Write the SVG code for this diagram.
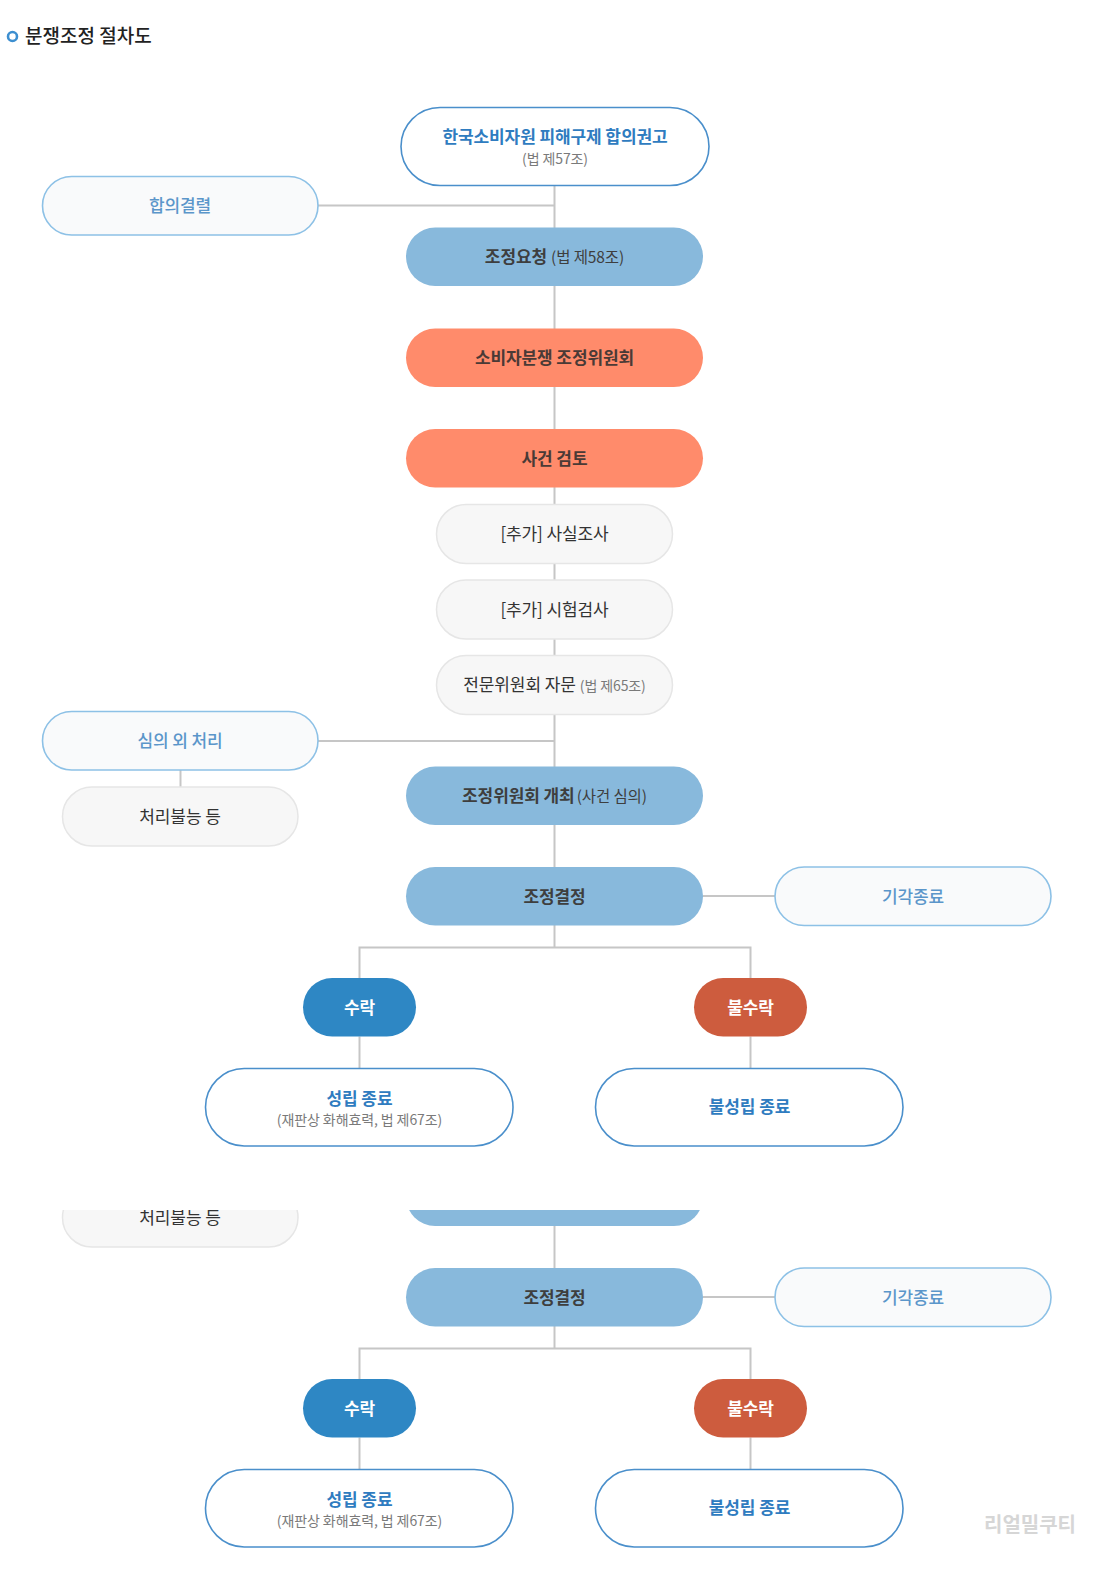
<svg xmlns="http://www.w3.org/2000/svg" width="1115" height="1581" viewBox="0 0 1115 1581">
<style>
text{font-family:"Noto Sans CJK KR","Noto Sans",sans-serif;text-anchor:middle;letter-spacing:-0.1px}
.ln{stroke:#c6c6c6;stroke-width:2;fill:none}
.outB{fill:#ffffff;stroke:#4a8fcb;stroke-width:1.6}
.outL{fill:#f9fafb;stroke:#8dc1e6;stroke-width:1.6}
.gry{fill:#f7f7f7;stroke:#e6e6e6;stroke-width:1.5}
.blu{fill:#88b9dc}
.sal{fill:#ff8b6b}
.acc{fill:#2e87c4}
.rej{fill:#cd5c3e}
.tBlue{fill:#2f7cc0;font-weight:700;font-size:17px}
.tLight{fill:#5b96ca;font-weight:500;font-size:17px}
.tDark{fill:#3e3e3e;font-weight:700;font-size:17px}
.tSal{fill:#4a3a36;font-weight:700;font-size:17px}
.tGray{fill:#333;font-weight:400;font-size:17px}
.tWhite{fill:#fff;font-weight:700;font-size:17px}
.sub{fill:#7a7a7a;font-weight:400;font-size:14px}
.subD{fill:#3e3e3e;font-weight:400;font-size:15.5px}
</style>
<defs>
<clipPath id="dupClip"><rect x="0" y="809" width="1115" height="400"/></clipPath>
</defs>
<rect width="1115" height="1581" fill="#ffffff"/>

<g id="title">
<circle cx="12.5" cy="36.5" r="4.5" fill="none" stroke="#3d8fd0" stroke-width="2.6"/>
<text x="25" y="43" style="text-anchor:start;font-size:19px;font-weight:500;fill:#222;letter-spacing:0">분쟁조정 절차도</text>
</g>

<g id="connectors">
<line class="ln" x1="554.5" y1="185" x2="554.5" y2="867"/>
<line class="ln" x1="318" y1="205.5" x2="554.5" y2="205.5"/>
<line class="ln" x1="318" y1="741" x2="554.5" y2="741"/>
<line class="ln" x1="180.5" y1="770" x2="180.5" y2="787"/>
<line class="ln" x1="703" y1="896" x2="775" y2="896"/>
<polyline class="ln" points="554.5,925 554.5,947.5"/>
<polyline class="ln" points="359.5,978 359.5,947.5 750.5,947.5 750.5,978"/>
<line class="ln" x1="359.5" y1="1036.5" x2="359.5" y2="1068.5"/>
<line class="ln" x1="750.5" y1="1036.5" x2="750.5" y2="1068.5"/>
</g>

<g id="n-recommend">
<rect class="outB" x="401" y="107.5" width="308" height="78" rx="39"/>
<text class="tBlue" x="555" y="142.5">한국소비자원 피해구제 합의권고</text>
<text class="sub" x="555" y="163.5">(법 제57조)</text>
</g>
<g id="n-fail">
<rect class="outL" x="42.5" y="176.5" width="275.5" height="58.5" rx="29.2"/>
<text class="tLight" x="180" y="212">합의결렬</text>
</g>
<g id="n-request">
<rect class="blu" x="406" y="227.5" width="297" height="58.5" rx="29.2"/>
<text x="554.5" y="263"><tspan class="tDark">조정요청</tspan><tspan class="subD" dx="4">(법 제58조)</tspan></text>
</g>
<g id="n-committee">
<rect class="sal" x="406" y="328.5" width="297" height="58.5" rx="29.2"/>
<text class="tSal" x="554.5" y="364">소비자분쟁 조정위원회</text>
</g>
<g id="n-review">
<rect class="sal" x="406" y="429" width="297" height="58.5" rx="29.2"/>
<text class="tSal" x="554.5" y="464.5">사건 검토</text>
</g>
<g id="n-fact">
<rect class="gry" x="436.5" y="504.5" width="236" height="59" rx="29.5"/>
<text class="tGray" x="554.5" y="540">[추가] 사실조사</text>
</g>
<g id="n-test">
<rect class="gry" x="436.5" y="580" width="236" height="59" rx="29.5"/>
<text class="tGray" x="554.5" y="615.5">[추가] 시험검사</text>
</g>
<g id="n-expert">
<rect class="gry" x="436.5" y="655.5" width="236" height="59" rx="29.5"/>
<text x="554.5" y="691"><tspan class="tGray">전문위원회 자문</tspan><tspan class="sub" dx="4">(법 제65조)</tspan></text>
</g>
<g id="n-outside">
<rect class="outL" x="42.5" y="711.5" width="275.5" height="58.5" rx="29.2"/>
<text class="tLight" x="180" y="747">심의 외 처리</text>
</g>
<g id="n-unable">
<rect class="gry" x="62.5" y="787" width="235.5" height="59" rx="29.5"/>
<text class="tGray" x="180" y="822.5">처리불능 등</text>
</g>
<g id="n-meeting">
<rect class="blu" x="406" y="766.5" width="297" height="58.5" rx="29.2"/>
<text x="554.5" y="802"><tspan class="tDark">조정위원회 개최</tspan><tspan class="subD" dx="2">(사건 심의)</tspan></text>
</g>
<g id="n-decision">
<rect class="blu" x="406" y="867" width="297" height="58.5" rx="29.2"/>
<text class="tDark" x="554.5" y="902.5">조정결정</text>
</g>
<g id="n-dismiss">
<rect class="outL" x="775" y="867" width="276" height="58.5" rx="29.2"/>
<text class="tLight" x="913" y="902.5">기각종료</text>
</g>
<g id="n-accept">
<rect class="acc" x="303" y="978" width="113" height="58.5" rx="29.2"/>
<text class="tWhite" x="359.5" y="1013.5">수락</text>
</g>
<g id="n-reject">
<rect class="rej" x="694" y="978" width="113" height="58.5" rx="29.2"/>
<text class="tWhite" x="750.5" y="1013.5">불수락</text>
</g>
<g id="n-success">
<rect class="outB" x="205.5" y="1068.5" width="307.5" height="77.5" rx="38.7"/>
<text class="tBlue" x="359.5" y="1104.5">성립 종료</text>
<text class="sub" x="359.5" y="1124.5">(재판상 화해효력, 법 제67조)</text>
</g>
<g id="n-nosuccess">
<rect class="outB" x="595.5" y="1068.5" width="307.5" height="77.5" rx="38.7"/>
<text class="tBlue" x="749.5" y="1113">불성립 종료</text>
</g>

<g id="duplicate" transform="translate(0,401)" clip-path="url(#dupClip)">
<g id="dup-connectors">
<line class="ln" x1="554.5" y1="825" x2="554.5" y2="867"/>
<line class="ln" x1="703" y1="896" x2="775" y2="896"/>
<polyline class="ln" points="554.5,925 554.5,947.5"/>
<polyline class="ln" points="359.5,978 359.5,947.5 750.5,947.5 750.5,978"/>
<line class="ln" x1="359.5" y1="1036.5" x2="359.5" y2="1068.5"/>
<line class="ln" x1="750.5" y1="1036.5" x2="750.5" y2="1068.5"/>
</g>
<g id="dup-unable">
<rect class="gry" x="62.5" y="787" width="235.5" height="59" rx="29.5"/>
<text class="tGray" x="180" y="822.5">처리불능 등</text>
</g>
<g id="dup-meeting">
<rect class="blu" x="406" y="766.5" width="297" height="58.5" rx="29.2"/>
</g>
<g id="dup-decision">
<rect class="blu" x="406" y="867" width="297" height="58.5" rx="29.2"/>
<text class="tDark" x="554.5" y="902.5">조정결정</text>
</g>
<g id="dup-dismiss">
<rect class="outL" x="775" y="867" width="276" height="58.5" rx="29.2"/>
<text class="tLight" x="913" y="902.5">기각종료</text>
</g>
<g id="dup-accept">
<rect class="acc" x="303" y="978" width="113" height="58.5" rx="29.2"/>
<text class="tWhite" x="359.5" y="1013.5">수락</text>
</g>
<g id="dup-reject">
<rect class="rej" x="694" y="978" width="113" height="58.5" rx="29.2"/>
<text class="tWhite" x="750.5" y="1013.5">불수락</text>
</g>
<g id="dup-success">
<rect class="outB" x="205.5" y="1068.5" width="307.5" height="77.5" rx="38.7"/>
<text class="tBlue" x="359.5" y="1104.5">성립 종료</text>
<text class="sub" x="359.5" y="1124.5">(재판상 화해효력, 법 제67조)</text>
</g>
<g id="dup-nosuccess">
<rect class="outB" x="595.5" y="1068.5" width="307.5" height="77.5" rx="38.7"/>
<text class="tBlue" x="749.5" y="1113">불성립 종료</text>
</g>
</g>

<g id="watermark">
<text x="1030" y="1532" style="font-size:20px;font-weight:700;fill:#d6d6d6;letter-spacing:0">리얼밀쿠티</text>
</g>
</svg>
